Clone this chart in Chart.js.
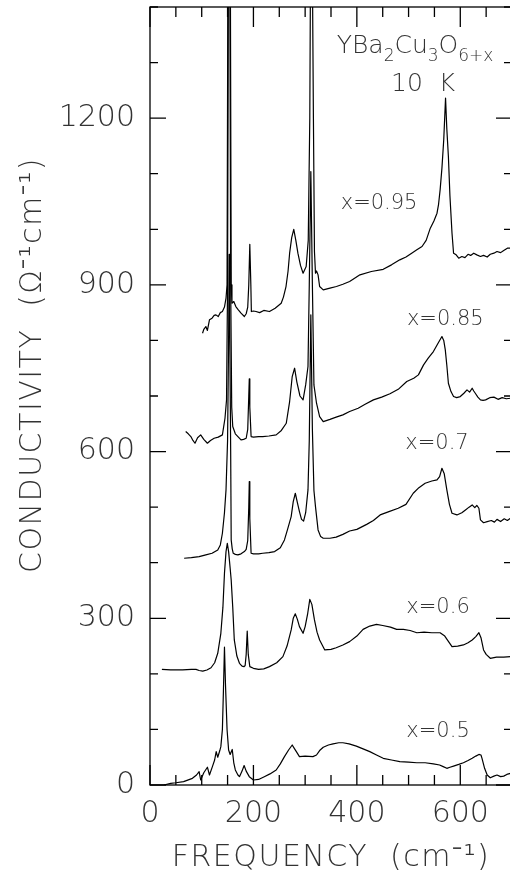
<!DOCTYPE html>
<html>
<head>
<meta charset="utf-8">
<title>YBa2Cu3O6+x - condutividade</title>
<script src="https://cdn.jsdelivr.net/npm/chart.js@4.4.1/dist/chart.umd.min.js"></script>
<style>
  html, body { margin: 0; padding: 0; background: #fff; overflow: hidden; }
  canvas { display: block; }
</style>
</head>
<body>
<canvas id="grafico" width="520" height="877"></canvas>
<script>
// espectros (frequência em cm-1, condutividade em ohm-1 cm-1)
var freq050 = [27, 40, 50, 65, 82, 90, 95, 98, 104, 111, 115, 121, 125, 128, 131, 135, 137, 140, 142, 144, 146, 149, 152, 155, 159, 162, 165, 170, 173, 178, 182, 186, 192, 200, 210, 221, 232, 244, 252, 260, 268, 275, 279, 283, 289, 300, 315, 322, 328, 335, 345, 354, 365, 373, 385, 399, 412, 425, 438, 451, 467, 483, 500, 516, 532, 548, 560, 567, 574, 580, 587, 597, 606, 615, 623, 630, 636, 640, 642, 647, 652, 658, 665, 671, 678, 684, 690, 697];
var cond050 = [0, 3, 4, 6, 12, 18, 24, 9, 22, 32, 18, 34, 45, 60, 50, 62, 69, 100, 170, 248, 180, 100, 63, 55, 64, 40, 27, 18, 15, 25, 35, 25, 15, 9, 10, 15, 20, 27, 38, 51, 63, 72, 66, 60, 51, 52, 51, 54, 62, 68, 72, 74, 76, 76, 74, 70, 65, 60, 54, 48, 45, 42, 41, 40, 40, 38, 36, 33, 30, 32, 34, 37, 40, 44, 48, 52, 55, 54, 48, 30, 18, 13, 16, 18, 15, 16, 19, 21];

var freq060 = [23, 40, 63, 80, 89, 95, 102, 110, 118, 125, 131, 137, 141, 144, 147, 149.5, 152, 155, 157, 160, 163, 168, 173, 178, 182, 184, 186, 188, 190, 193, 200, 210, 220, 231, 245, 257, 265, 273, 277, 281, 285, 289, 296, 300, 305, 309, 313, 318, 323, 328, 338, 350, 360, 373, 386, 400, 412, 425, 438, 450, 465, 477, 490, 503, 516, 530, 545, 561, 570, 578, 584, 595, 606, 615, 623, 630, 636, 640, 645, 650, 658, 670, 684, 697];
var cond060 = [208, 207, 207, 208, 208, 206, 205, 207, 211, 220, 237, 273, 320, 381, 420, 435, 420, 390, 369, 320, 261, 232, 219, 214, 213, 215, 235, 277, 235, 213, 210, 208, 209, 213, 220, 231, 250, 279, 300, 308, 298, 285, 273, 285, 309, 334, 325, 297, 275, 261, 243, 244, 247, 252, 258, 268, 280, 286, 289, 287, 284, 280, 280, 278, 274, 275, 274, 274, 268, 257, 249, 250, 252, 256, 261, 267, 274, 265, 243, 235, 228, 230, 230, 231];

var freq070 = [66, 80, 95, 108, 120, 131, 136, 140, 144, 147, 150, 152, 153, 154, 156, 157, 159, 161, 165, 170, 176, 182.5, 186, 189, 191, 192, 193, 195.5, 200, 210, 218, 230, 241, 252, 260, 266, 273, 277, 281, 285, 289, 293, 297, 301, 305.5, 308, 311, 314, 317, 320, 325, 330, 335, 348, 360, 373, 386, 400, 419, 432, 445, 462, 480, 495, 509, 520, 532, 545, 555, 560, 564.5, 569, 574, 579, 584, 593.5, 603, 610, 617, 623, 628, 632, 636, 639, 645, 652, 660, 666, 671, 678, 685, 691, 697];
var cond070 = [408, 409, 411, 414, 417, 423, 432, 453, 490, 531, 620, 800, 955, 850, 600, 441, 425, 417, 415, 414, 416, 420, 424, 440, 500, 546, 480, 417, 416, 416, 417, 418, 420, 427, 441, 460, 483, 510, 525, 508, 492, 478, 475, 490, 531, 620, 846, 640, 530, 501, 459, 447, 444, 444, 446, 451, 457, 460, 469, 476, 486, 492, 498, 505, 525, 535, 543, 547, 549, 555, 570, 560, 531, 505, 489, 486, 490, 495, 500, 504, 499, 503, 498, 477, 472, 474, 476, 473, 478, 474, 479, 476, 480];

var freq085 = [69, 74, 79, 83, 87, 92, 98, 104, 111, 117, 124, 132, 140, 145, 148, 150, 152, 154, 156, 158, 160, 165, 170, 176, 181, 186, 189, 191, 192, 193, 195.5, 200, 210, 218, 230, 244, 254, 263.5, 270, 275, 279.6, 284, 290, 296, 301, 305.5, 308, 311, 314, 317, 322, 328, 335, 348, 360, 373, 386, 402.5, 416, 432, 448, 464, 480, 496.5, 510, 519, 529, 538, 548, 557, 564.5, 568, 571, 574, 577, 582, 587, 593, 600, 607, 613, 618, 623, 626, 629, 634, 639, 644, 649, 657, 665, 673, 681, 689, 697];
var cond085 = [636, 632, 627, 620, 615, 625, 630, 622, 615, 620, 624, 626, 630, 660, 693, 900, 1600, 1600, 900, 680, 645, 632, 627, 621, 622, 624, 640, 700, 731, 680, 627, 626, 627, 627, 628, 630, 638, 651, 690, 735, 750, 725, 700, 693, 720, 753, 900, 1104, 900, 720, 687, 663, 654, 658, 662, 666, 672, 678, 685, 693, 698, 704, 712, 726, 732, 738, 756, 768, 780, 795, 807, 800, 783, 755, 723, 708, 699, 697, 699, 705, 711, 707, 714, 709, 705, 698, 693, 692, 693, 697, 698, 694, 697, 695, 696];

var freq095 = [101.6, 104, 108, 111, 115, 120, 124, 127.5, 132, 136, 140, 144, 147, 149, 151, 153, 155, 157, 158.5, 162, 166, 170, 176, 182.5, 186, 189, 191, 193, 195, 196, 200, 205, 212, 220, 231, 242, 253.7, 258, 263, 267, 270, 274, 278, 282, 286, 291, 296, 302, 306, 309, 311, 313, 316, 318, 320, 322, 325, 328, 335, 348, 360.5, 373, 386, 406, 428, 451, 467, 483, 495, 506, 516, 526, 534, 542, 549, 555, 558, 561, 564.5, 568, 571.5, 574, 577, 580, 584, 587, 592, 597, 603, 609, 615, 620, 626, 632, 639, 645, 652, 658, 665, 671, 678, 684, 691, 697];
var cond095 = [813, 820, 825, 818, 837, 840, 845, 846, 843, 850, 852, 860, 876, 900, 1600, 1600, 1600, 900, 867, 870, 861, 856, 849, 843, 848, 860, 900, 973, 900, 852, 853, 852, 850, 854, 852, 858, 867, 878, 897, 925, 957, 985, 1000, 980, 957, 935, 921, 933, 980, 1200, 1600, 1600, 1200, 960, 921, 925, 918, 897, 891, 894, 897, 901, 906, 918, 924, 928, 936, 945, 950, 957, 963, 969, 980, 1002, 1015, 1029, 1045, 1071, 1110, 1161, 1236, 1180, 1131, 1060, 993, 957, 954, 948, 951, 949, 955, 953, 957, 954, 951, 953, 950, 955, 957, 960, 958, 962, 966, 966];

var nomes = ['x=0.5', 'x=0.6', 'x=0.7', 'x=0.85', 'x=0.95'];
var xTicks = [0, 200, 400, 600];
var yTicks = [0, 300, 600, 900, 1200];

var FONTE = "'DejaVu Sans ExtraLight', 'DejaVu Sans', sans-serif";
var COR_TEXTO = '#333';

function pares(xs, ys) {
  return xs.map(function (x, i) { return { x: x, y: ys[i] }; });
}

function serie(nome, xs, ys) {
  return {
    label: nome,
    data: pares(xs, ys),
    borderColor: '#000',
    borderWidth: 1.2,
    borderJoinStyle: 'round',
    pointRadius: 0,
    tension: 0,
    fill: false
  };
}

// moldura com marcas para dentro nos quatro lados + textos
var moldura = {
  id: 'moldura',
  afterDraw: function (chart) {
    var ctx = chart.ctx, a = chart.chartArea;
    var sx = chart.scales.x, sy = chart.scales.y;
    ctx.save();
    ctx.strokeStyle = '#000';
    ctx.lineWidth = 1.3;
    ctx.strokeRect(a.left, a.top, a.right - a.left, a.bottom - a.top);
    ctx.beginPath();
    for (var f = 0; f <= 700; f += 50) {
      var px = sx.getPixelForValue(f);
      var lx = f % 200 === 0 ? 20 : 10;
      ctx.moveTo(px, a.bottom); ctx.lineTo(px, a.bottom - lx);
      ctx.moveTo(px, a.top); ctx.lineTo(px, a.top + lx);
    }
    for (var c = 0; c <= 1400; c += 100) {
      var py = sy.getPixelForValue(c);
      var ly = c % 300 === 0 ? 16 : 8;
      ctx.moveTo(a.left, py); ctx.lineTo(a.left + ly, py);
      ctx.moveTo(a.right, py); ctx.lineTo(a.right - ly, py);
    }
    ctx.stroke();

    ctx.fillStyle = COR_TEXTO;
    ctx.textBaseline = 'middle';
    ctx.textAlign = 'center';
    ctx.letterSpacing = '1.5px';

    // títulos dos eixos
    ctx.font = '200 30px ' + FONTE;
    ctx.fillText('FREQUENCY  (cm\u207B\u00B9)', 331, 858);
    ctx.save();
    ctx.translate(33, 365);
    ctx.rotate(-Math.PI / 2);
    ctx.fillText('CONDUCTIVITY  (\u03A9\u207B\u00B9cm\u207B\u00B9)', 0, 0);
    ctx.restore();
    ctx.letterSpacing = '0px';

    // rótulos das curvas
    var pos = [[557, 97], [557, 319], [555, 614], [571, 837], [443, 1046]];
    ctx.font = '200 21px ' + FONTE;
    nomes.forEach(function (n, i) {
      ctx.fillText(n, sx.getPixelForValue(pos[i][0]), sy.getPixelForValue(pos[i][1]));
    });

    ctx.font = '200 25px ' + FONTE;
    ctx.fillText('10  K', sx.getPixelForValue(528), sy.getPixelForValue(1260));

    // fórmula com índices
    var partes = [['YBa', 0], ['2', 1], ['Cu', 0], ['3', 1], ['O', 0], ['6+x', 1]];
    var x0 = sx.getPixelForValue(361);
    var yb = sy.getPixelForValue(1317);
    ctx.textAlign = 'left';
    ctx.textBaseline = 'alphabetic';
    partes.forEach(function (p) {
      ctx.font = p[1] ? '200 17px ' + FONTE : '200 25px ' + FONTE;
      ctx.fillText(p[0], x0, yb + (p[1] ? 8 : 0));
      x0 += ctx.measureText(p[0]).width;
    });
    ctx.restore();
  }
};

function init() {
  var el = document.getElementById('grafico');
  new Chart(el, {
    type: 'line',
    data: {
      datasets: [
        serie(nomes[0], freq050, cond050),
        serie(nomes[1], freq060, cond060),
        serie(nomes[2], freq070, cond070),
        serie(nomes[3], freq085, cond085),
        serie(nomes[4], freq095, cond095)
      ]
    },
    options: {
      responsive: false,
      animation: false,
      layout: { autoPadding: false, padding: { top: 7, right: 8, left: 0, bottom: 0 } },
      plugins: { legend: { display: false }, tooltip: { enabled: false } },
      scales: {
        x: {
          type: 'linear',
          min: 0,
          max: 700,
          border: { display: false },
          grid: { display: false, drawTicks: false },
          afterBuildTicks: function (s) { s.ticks = xTicks.map(function (v) { return { value: v }; }); },
          afterFit: function (s) { s.height = 92; s.paddingLeft = 0; s.paddingRight = 0; },
          ticks: {
            padding: 11,
            color: COR_TEXTO,
            maxRotation: 0,
            callback: function (v) { return String(v); },
            font: { family: FONTE, size: 30, weight: '200' }
          }
        },
        y: {
          min: 0,
          max: 1400,
          border: { display: false },
          grid: { display: false, drawTicks: false },
          afterBuildTicks: function (s) { s.ticks = yTicks.map(function (v) { return { value: v }; }); },
          afterFit: function (s) { s.width = 150; s.paddingTop = 0; s.paddingBottom = 0; },
          ticks: {
            padding: 15,
            color: COR_TEXTO,
            callback: function (v) { return String(v); },
            font: { family: FONTE, size: 30, weight: '200' }
          }
        }
      }
    },
    plugins: [moldura]
  });
}

if (document.readyState === 'loading') {
  document.addEventListener('DOMContentLoaded', init);
} else {
  init();
}
</script>
</body>
</html>
